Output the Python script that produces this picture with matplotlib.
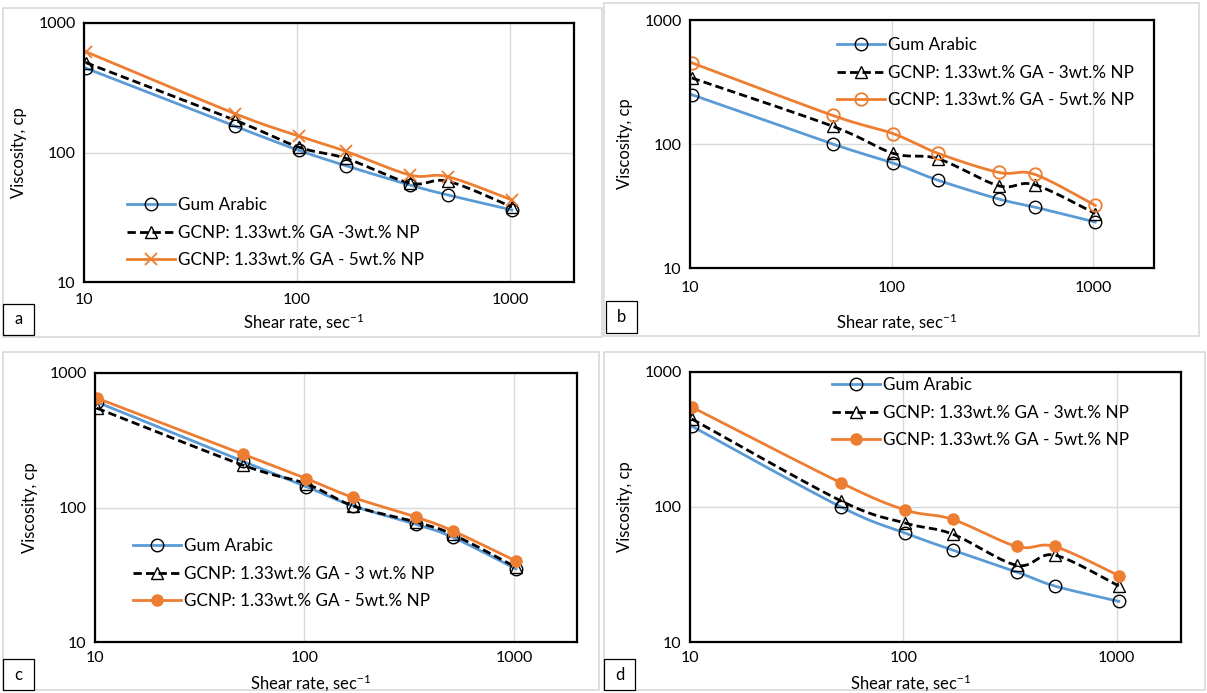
import numpy as np
import matplotlib
matplotlib.use("Agg")
import matplotlib.pyplot as plt
from matplotlib.patches import Rectangle
from matplotlib.lines import Line2D

plt.rcParams['font.family'] = ['Lato', 'DejaVu Sans']
plt.rcParams['mathtext.fontset'] = 'custom'
plt.rcParams['mathtext.rm'] = 'Lato'
plt.rcParams['mathtext.it'] = 'Lato'

W, H = 1207, 693

# Shear rates (sec^-1)
shear = [10.2, 51, 102, 170, 340, 511, 1022]

# Panel a
a_ga = [448, 160, 104, 79, 56, 47, 36]
a_np3 = [494, 178, 110, 90, 58, 60, 38]
a_np5 = [600, 200, 134, 102, 67, 65, 43]
# Panel b
b_ga = [250, 100, 70, 51, 36, 31, 23.5]
b_np3 = [341, 139, 84, 76, 46, 47, 27.5]
b_np5 = [452, 170, 121, 84, 59, 57, 32]
# Panel c
c_ga = [608, 220, 143, 103, 75, 60, 35]
c_np3 = [548, 206, 150, 103, 78, 63, 36]
c_np5 = [651, 249, 164, 119, 85, 67, 40]
# Panel d
d_ga = [397, 100, 64, 48, 33, 26, 20]
d_np3 = [449, 111, 76, 63, 37, 44, 26]
d_np5 = [550, 151, 95, 81, 51, 51, 31]

labels_a = ["Gum Arabic", "GCNP: 1.33wt.% GA -3wt.% NP", "GCNP: 1.33wt.% GA - 5wt.% NP"]
labels_b = ["Gum Arabic", "GCNP: 1.33wt.% GA - 3wt.% NP", "GCNP: 1.33wt.% GA - 5wt.% NP"]
labels_c = ["Gum Arabic", "GCNP: 1.33wt.% GA - 3 wt.% NP", "GCNP: 1.33wt.% GA - 5wt.% NP"]
labels_d = ["Gum Arabic", "GCNP: 1.33wt.% GA - 3wt.% NP", "GCNP: 1.33wt.% GA - 5wt.% NP"]

BLUE = "#5B9BD5"
ORANGE = "#ED7D31"

def smooth(x, y, n=30):
    lx = np.log10(np.asarray(x, float))
    ly = np.log10(np.asarray(y, float))
    px = np.concatenate([[lx[0]], lx, [lx[-1]]])
    py = np.concatenate([[ly[0]], ly, [ly[-1]]])
    ox, oy = [], []
    t = np.linspace(0, 1, n)
    for i in range(1, len(px) - 2):
        p0 = np.array([px[i], py[i]])
        p3 = np.array([px[i + 1], py[i + 1]])
        c1 = p0 + (np.array([px[i + 1], py[i + 1]]) - np.array([px[i - 1], py[i - 1]])) / 6
        c2 = p3 - (np.array([px[i + 2], py[i + 2]]) - np.array([px[i], py[i]])) / 6
        b = ((1 - t) ** 3)[:, None] * p0 + (3 * (1 - t) ** 2 * t)[:, None] * c1 \
            + (3 * (1 - t) * t ** 2)[:, None] * c2 + (t ** 3)[:, None] * p3
        ox.extend(b[:, 0]); oy.extend(b[:, 1])
    return 10 ** np.array(ox), 10 ** np.array(oy)

fig = plt.figure(figsize=(W / 100, H / 100), dpi=100)

def fr(l, t, r, b):
    return [l / W, 1 - b / H, (r - l) / W, (b - t) / H]

def frame(l, t, r, b):
    fig.patches.append(Rectangle((l / W, 1 - b / H), (r - l) / W, (b - t) / H,
                                 transform=fig.transFigure, fill=False,
                                 edgecolor="#d9d9d9", lw=1.2))

def letter(l, t, r, b, s):
    fig.patches.append(Rectangle((l / W, 1 - b / H), (r - l) / W, (b - t) / H,
                                 transform=fig.transFigure, fill=True, facecolor="white",
                                 edgecolor="black", lw=0.9, zorder=5))
    fig.text((l + r) / 2 / W, 1 - (t + b) / 2 / H, s, ha="center", va="center",
             fontsize=12, zorder=6)

def panel(rect, ga, np3, np5, labels, style5, leg_xy, xlabel_y, xpad):
    ax = fig.add_axes(fr(*rect))
    ax.set_xscale("log"); ax.set_yscale("log")
    ax.set_xlim(10, 2000); ax.set_ylim(10, 1000)
    ax.set_xticks([10, 100, 1000]); ax.set_xticklabels(["10", "100", "1000"])
    ax.set_yticks([10, 100, 1000]); ax.set_yticklabels(["10", "100", "1000"])
    ax.minorticks_off()
    ax.tick_params(length=0, labelsize=11.5, pad=6)
    ax.tick_params(axis='x', pad=xpad)
    ax.grid(True, color="#d9d9d9", lw=1)
    for s in ax.spines.values():
        s.set_color("black"); s.set_linewidth(1.6)
    ax.set_axisbelow(True)

    sx, sy = smooth(shear, ga)
    ax.plot(sx, sy, color=BLUE, lw=2)
    ax.plot(shear, ga, ls="none", marker="o", ms=9, mfc="none", mec="black", mew=1)
    sx, sy = smooth(shear, np3)
    ax.plot(sx, sy, color="black", lw=2, ls=(0, (3, 1.5)))
    ax.plot(shear, np3, ls="none", marker="^", ms=9, mfc="none", mec="black", mew=1)
    sx, sy = smooth(shear, np5)
    ax.plot(sx, sy, color=ORANGE, lw=2)
    if style5 == "x":
        mk = dict(marker="x", ms=9, mec=ORANGE, mew=1.3)
    elif style5 == "open":
        mk = dict(marker="o", ms=9, mfc="none", mec=ORANGE, mew=1.3)
    else:
        mk = dict(marker="o", ms=8, mfc=ORANGE, mec=ORANGE)
    ax.plot(shear, np5, ls="none", **mk)

    handles = [
        Line2D([], [], color=BLUE, lw=2, marker="o", ms=9, mfc="none", mec="black", mew=1),
        Line2D([], [], color="black", lw=2, ls=(0, (3, 1.5)), marker="^", ms=9, mfc="none", mec="black", mew=1),
        Line2D([], [], color=ORANGE, lw=2, **mk),
    ]
    fig.legend(handles, labels, loc="upper left",
               bbox_to_anchor=(leg_xy[0] / W, 1 - leg_xy[1] / H),
               bbox_transform=fig.transFigure, frameon=False, fontsize=12.3,
               handlelength=2.8, handletextpad=0.2, labelspacing=0.68,
               borderpad=0, borderaxespad=0)
    ax.set_ylabel("Viscosity, cp", fontsize=12, labelpad=8)
    cx = (rect[0] + rect[2]) / 2 - 25
    fig.text(cx / W, 1 - xlabel_y / H, "Shear rate, sec$^{-1}$", ha="center",
             va="center", fontsize=12)
    return ax

frame(3, 8, 602, 337)
frame(604, 3, 1199, 336)
frame(3, 352, 599, 690)
frame(604, 352, 1205, 690)

panel((84, 23, 574, 282), a_ga, a_np3, a_np5, labels_a, "x", (127, 197), 322, 8)
panel((690, 20, 1154, 268), b_ga, b_np3, b_np5, labels_b, "open", (837, 37), 322, 9)
panel((95, 373, 577, 642), c_ga, c_np3, c_np5, labels_c, "filled", (133, 538), 683, 6.5)
panel((690, 372, 1181, 642), d_ga, d_np3, d_np5, labels_d, "filled", (832, 377), 683, 6.5)

letter(3, 304, 34, 335, "a")
letter(606, 301, 637, 333, "b")
letter(3, 659, 34, 690, "c")
letter(604, 659, 635, 690, "d")

fig.savefig("out.png", dpi=100)
